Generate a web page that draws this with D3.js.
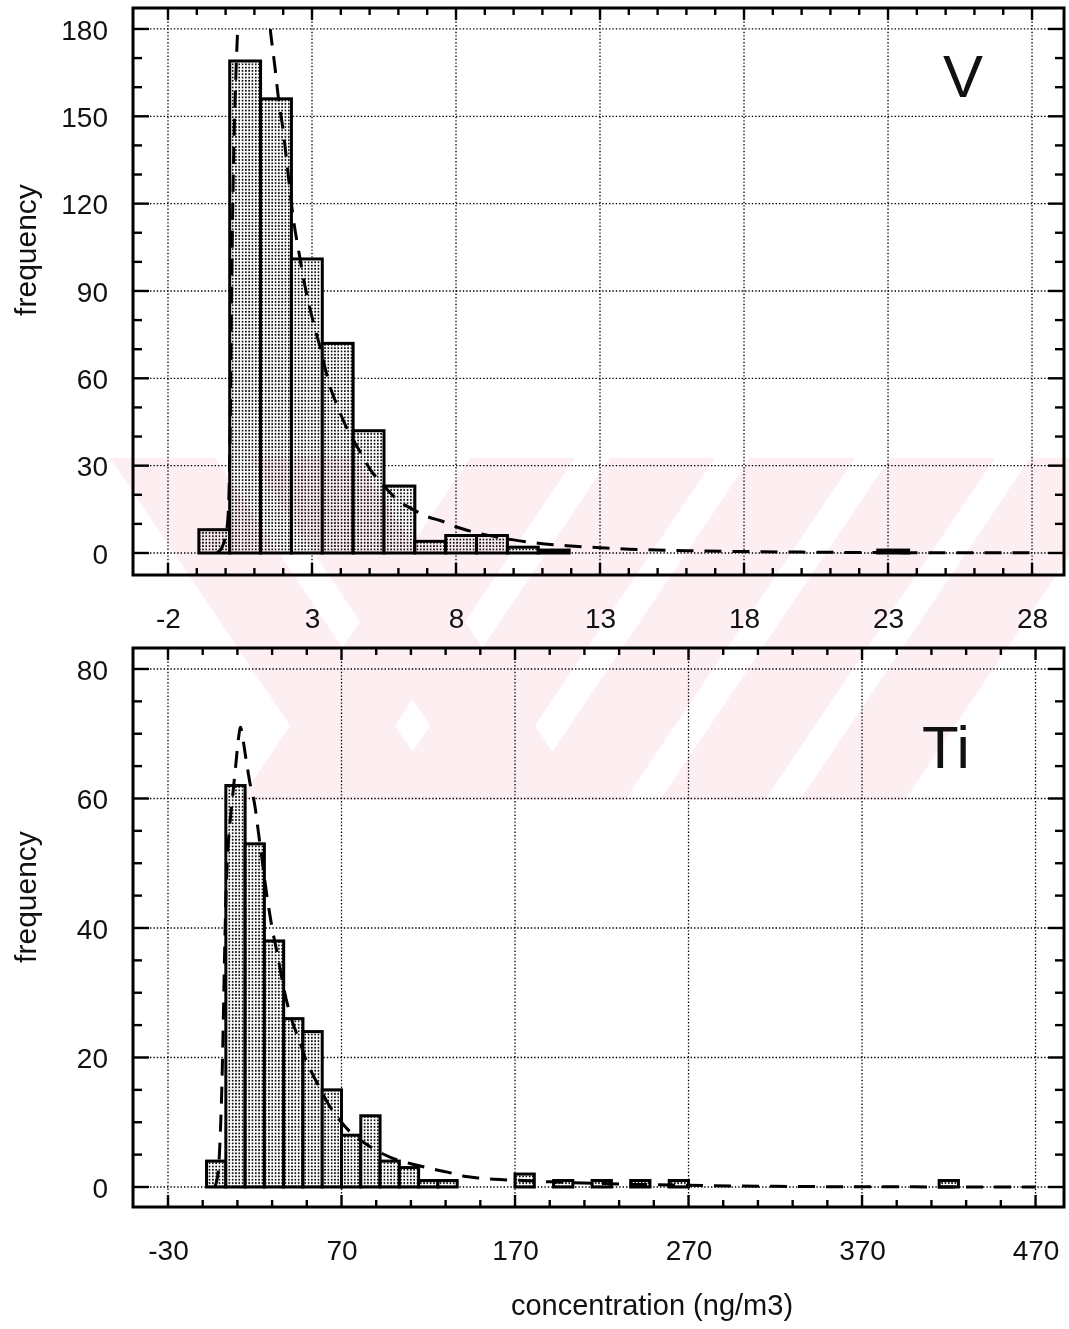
<!DOCTYPE html>
<html><head><meta charset="utf-8">
<script src="https://cdn.jsdelivr.net/npm/d3@7"></script>
<style>
body{margin:0;background:#fff}
svg{display:block}
text{font-family:"Liberation Sans",Arial,Helvetica,sans-serif;fill:#111}
</style>
</head><body>
<svg id="chart" width="1069" height="1329"></svg>
<script>
// ---------------- DATA ----------------
// Vanadium (V) histogram: 28 classes from -2 to 28
const vBinRange = [-2, 28];
const vCounts = [0, 8, 169, 156, 101, 72, 42, 23, 4, 6, 6, 2, 1, 0, 0, 0, 0, 0, 0, 0, 0, 0, 0, 1, 0, 0, 0, 0];
// fitted (dashed) curve for V
const vCurveX = [-0.3, -0.12, 0.0, 0.08, 0.14, 0.18, 0.21, 0.25, 0.3, 0.36, 0.43, 0.6, 0.8, 1.1, 1.4, 1.55, 1.7, 1.85, 2.0, 2.15, 2.35, 2.55, 2.75, 3.0, 3.3, 3.6, 3.9, 4.3, 4.6, 5.0, 5.5, 6.0, 6.5, 7.0, 7.5, 8.0, 8.5, 9.0, 10.0, 11.0, 12.0, 13.0, 14.0, 16.0, 18.0, 20.0, 24.0, 28.0];
const vCurveY = [0, 2, 6, 12, 30, 60, 90, 120, 145, 165, 182, 205, 218, 217, 196, 180, 168, 155, 145, 132, 115, 103, 92, 81, 70, 58, 50, 41, 36, 29, 23, 18, 15, 12.5, 11, 9, 7.5, 6.3, 4.5, 3.2, 2.4, 1.8, 1.3, 0.8, 0.5, 0.3, 0.1, 0.05];
const vXTicks = [-2, 3, 8, 13, 18, 23, 28];
const vYTicks = [0, 30, 60, 90, 120, 150, 180];

// Titanium (Ti) histogram: 45 classes from -30 to 470
const tiBinRange = [-30, 470];
const tiCounts = [0, 0, 4, 62, 53, 38, 26, 24, 15, 8, 11, 4, 3, 1, 1, 0, 0, 0, 2, 0, 1, 0, 1, 0, 1, 0, 1, 0, 0, 0, 0, 0, 0, 0, 0, 0, 0, 0, 0, 0, 1, 0, 0, 0, 0];
const tiCurveX = [-3, -1.5, -0.8, -0.2, 0.4, 1.0, 1.6, 2.4, 3.4, 4.5, 6, 7.5, 9, 10.5, 11.8, 13, 15, 17.5, 20, 22, 24, 27, 30, 33, 36.5, 40, 43, 46, 49, 53, 57.5, 62, 69, 77, 85, 94, 104, 113, 122, 131, 140, 149, 158, 175, 190, 210, 240, 270, 320, 400, 470];
const tiCurveY = [0, 1.5, 3, 6, 10, 15, 22, 33, 45, 52, 57, 61, 65, 69, 71, 69.5, 66, 62, 59, 55, 51, 45, 40, 36, 31, 27, 24.5, 22.4, 20, 17.6, 15.3, 13, 10.3, 8, 6.5, 5.1, 4, 3.4, 2.8, 2.3, 1.7, 1.4, 1.2, 1.0, 0.8, 0.6, 0.4, 0.25, 0.1, 0.02, 0];
const tiXTicks = [-30, 70, 170, 270, 370, 470];
const tiYTicks = [0, 20, 40, 60, 80];

const xTitle = "concentration (ng/m3)";
const yTitle = "frequency";

// ---------------- DRAWING ----------------
const svg = d3.select("#chart");
const defs = svg.append("defs");
const pat = defs.append("pattern").attr("id", "dots")
  .attr("patternUnits", "userSpaceOnUse").attr("width", 3.3).attr("height", 3.3);
pat.append("rect").attr("width", 3.3).attr("height", 3.3).attr("fill", "#fff");
pat.append("circle").attr("cx", 1.65).attr("cy", 1.65).attr("r", 0.95).attr("fill", "#000");

function panel(o) {
  const g = svg.append("g");
  const x = d3.scaleLinear().domain(o.xDomain).range([o.left, o.right]);
  const y = d3.scaleLinear().domain(o.yDomain).range([o.bottom, o.top]);

  // grid (dotted)
  const grid = g.append("g").attr("stroke", "#000").attr("stroke-width", 1.3)
    .attr("stroke-dasharray", "1.4,2");
  grid.selectAll("line.v").data(o.xTicks).join("line")
    .attr("x1", d => x(d)).attr("x2", d => x(d)).attr("y1", o.top).attr("y2", o.bottom);
  grid.selectAll("line.h").data(o.yTicks).join("line")
    .attr("y1", d => y(d)).attr("y2", d => y(d)).attr("x1", o.left).attr("x2", o.right);

  // bars
  const n = o.counts.length;
  const w = (o.binRange[1] - o.binRange[0]) / n;
  const bins = o.counts.map((c, i) => ({x0: o.binRange[0] + i * w, x1: o.binRange[0] + (i + 1) * w, c}));
  g.append("g").selectAll("rect").data(bins).join("rect")
    .attr("x", d => x(d.x0)).attr("width", d => x(d.x1) - x(d.x0))
    .attr("y", d => y(d.c)).attr("height", d => y(0) - y(d.c))
    .attr("fill", "url(#dots)").attr("stroke", "#000").attr("stroke-width", 3);

  // fitted curve
  const cid = "clip" + o.id;
  defs.append("clipPath").attr("id", cid).append("rect")
    .attr("x", o.left).attr("width", o.right - o.left)
    .attr("y", y(o.clipMax)).attr("height", o.bottom - y(o.clipMax));
  const pts = o.curveX.map((v, i) => [v, o.curveY[i]]);
  g.append("path").datum(pts)
    .attr("clip-path", `url(#${cid})`)
    .attr("d", d3.line().x(d => x(d[0])).y(d => y(d[1])).curve(d3.curveMonotoneX))
    .attr("fill", "none").attr("stroke", "#000").attr("stroke-width", 3)
    .attr("stroke-dasharray", "17,11");

  // tick marks (inward) on all four sides
  const tk = g.append("g").attr("stroke", "#000").attr("stroke-width", 2.4);
  const xMinor = d3.range(o.xTicks[0], o.xTicks[o.xTicks.length - 1] + 1e-9, o.xMinorStep);
  const yMinor = d3.range(o.yTicks[0], o.yTicks[o.yTicks.length - 1] + 1e-9, o.yMinorStep);
  const isMajX = v => o.xTicks.some(t => Math.abs(t - v) < 1e-6);
  const isMajY = v => o.yTicks.some(t => Math.abs(t - v) < 1e-6);
  xMinor.forEach(v => {
    const L = isMajX(v) ? 12 : 7;
    tk.append("line").attr("x1", x(v)).attr("x2", x(v)).attr("y1", o.top).attr("y2", o.top + L);
    tk.append("line").attr("x1", x(v)).attr("x2", x(v)).attr("y1", o.bottom).attr("y2", o.bottom - L);
  });
  yMinor.forEach(v => {
    const L = isMajY(v) ? 16 : 9;
    tk.append("line").attr("y1", y(v)).attr("y2", y(v)).attr("x1", o.left).attr("x2", o.left + L);
    tk.append("line").attr("y1", y(v)).attr("y2", y(v)).attr("x1", o.right).attr("x2", o.right - L);
  });

  // frame
  g.append("rect").attr("x", o.left).attr("y", o.top)
    .attr("width", o.right - o.left).attr("height", o.bottom - o.top)
    .attr("fill", "none").attr("stroke", "#000").attr("stroke-width", 3);

  // tick labels via d3 axes (lines hidden)
  const fmt = d => String(d);
  const ax = g.append("g").attr("transform", `translate(0,${o.xLabelY})`)
    .call(d3.axisBottom(x).tickValues(o.xTicks).tickSize(0).tickPadding(0).tickFormat(fmt));
  ax.select(".domain").remove();
  ax.selectAll("text").attr("font-size", 28).attr("dy", "0.35em")
    .attr("font-family", "Liberation Sans, Arial, sans-serif").attr("fill", "#111");
  const ay = g.append("g").attr("transform", `translate(${o.yLabelX},0)`)
    .call(d3.axisLeft(y).tickValues(o.yTicks).tickSize(0).tickPadding(0).tickFormat(fmt));
  ay.select(".domain").remove();
  ay.selectAll("text").attr("font-size", 28).attr("dy", "0.36em")
    .attr("font-family", "Liberation Sans, Arial, sans-serif").attr("fill", "#111");

  // y title
  g.append("text").attr("transform", `translate(${o.yTitleX},${o.yTitleY}) rotate(-90)`)
    .attr("text-anchor", "middle").attr("dy", "0.35em").attr("font-size", 30).text(yTitle);

  // element label
  g.append("text").attr("x", o.labelX).attr("y", o.labelY).attr("text-anchor", "middle")
    .attr("font-size", 60).text(o.label);
}

panel({
  id: "V", left: 133, right: 1064, top: 8, bottom: 575,
  xDomain: [-3.215, 29.11], yDomain: [-7.56, 187.2],
  binRange: vBinRange, counts: vCounts, curveX: vCurveX, curveY: vCurveY,
  xTicks: vXTicks, yTicks: vYTicks, xMinorStep: 1, yMinorStep: 10, clipMax: 180,
  xLabelY: 618, yLabelX: 108, yTitleX: 25, yTitleY: 250,
  label: "V", labelX: 963, labelY: 97
});

panel({
  id: "Ti", left: 133, right: 1064, top: 648, bottom: 1207,
  xDomain: [-50.17, 486.4], yDomain: [-3.09, 83.24],
  binRange: tiBinRange, counts: tiCounts, curveX: tiCurveX, curveY: tiCurveY,
  xTicks: tiXTicks, yTicks: tiYTicks, xMinorStep: 20, yMinorStep: 5, clipMax: 83,
  xLabelY: 1250, yLabelX: 108, yTitleX: 25, yTitleY: 897,
  label: "Ti", labelX: 946, labelY: 768
});

svg.append("text").attr("x", 652).attr("y", 1305).attr("dy", "0.35em")
  .attr("text-anchor", "middle").attr("font-size", 29).text(xTitle);

// faint pink scan watermark (decorative), multiplied over the page
const wm = svg.append("g").style("mix-blend-mode", "multiply").attr("fill", "#fdeef1");
const wTop = 458, wBot = 800, shift = 230, bw = 105;
const back = [110, 250];
const fwd = [470, 610, 750, 890, 1030];
back.forEach(a => wm.append("polygon").attr("points",
  [[a, wTop], [a + bw, wTop], [a + bw + shift, wBot], [a + shift, wBot]].map(p => p.join(",")).join(" ")));
fwd.forEach(a => wm.append("polygon").attr("points",
  [[a, wTop], [a + bw, wTop], [a + bw - shift, wBot], [a - shift, wBot]].map(p => p.join(",")).join(" ")));
</script>
</body></html>
